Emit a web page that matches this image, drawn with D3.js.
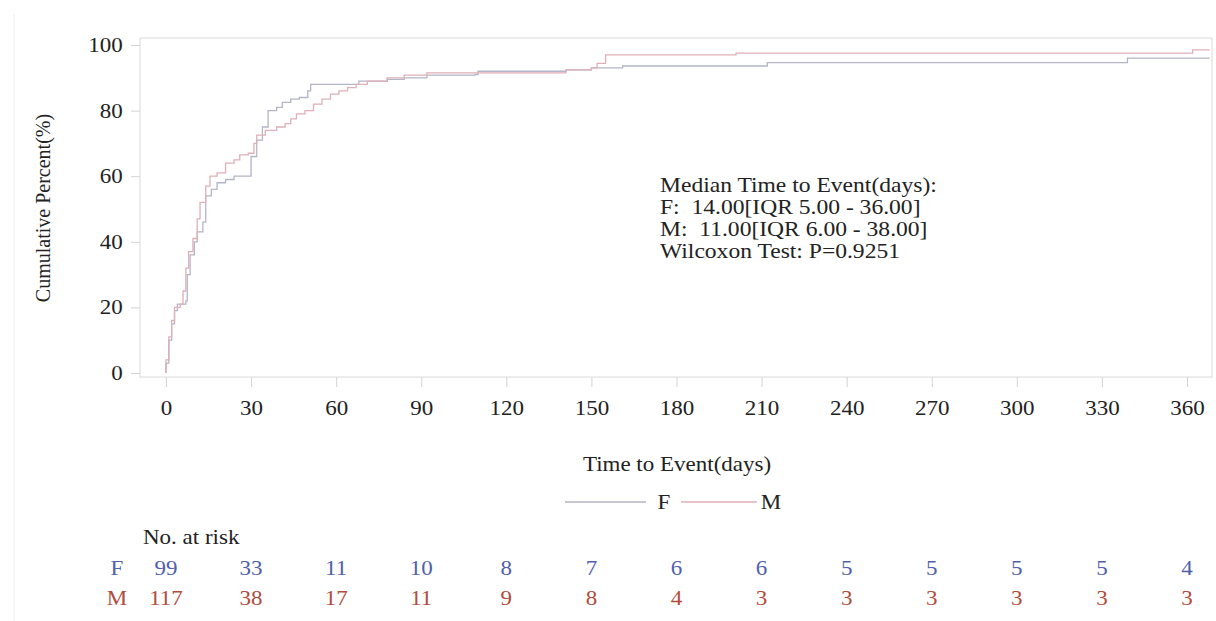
<!DOCTYPE html>
<html>
<head>
<meta charset="utf-8">
<script src="https://cdn.jsdelivr.net/npm/d3@7"></script>
<style>
body { margin: 0; background: #fff; }
text { font-family: "Liberation Serif", "DejaVu Serif", serif; fill: #222; white-space: pre; }
</style>
</head>
<body>
<div id="chart_wrapper"></div>
<script>
// step points: [day, cumulative percent]
var groups = ["F", "M"];
var curveF = [[0,0],[0,3],[1,10],[2,15],[3,19],[4,21],[7,22],[7.5,30],[8.5,36],[10,40],[11,43],[13,46],[14,54],[16,56],[18,58],[21,59],[24,60],[29,60],[30,66],[32,71],[34,75],[36,80],[39,81],[41,82.5],[44,83.5],[47,84],[50,86],[51,88],[66,88],[68,89],[78,89.5],[84,90],[92,90.8],[109,91],[110,92],[141,92.4],[150,93],[161,93.6],[212,94.6],[339,96],[368,96]];
var curveM = [[0,0],[0,4],[1,11],[2,16],[3,20],[5,21],[6,25],[7,32],[8,37],[9.5,41],[11,47],[12,52],[14,57],[15.5,60],[18,61],[21,64],[24,65],[26,66.5],[29,67],[31,70],[32,72.5],[35,74],[39,75],[42,76],[44,77.5],[46,79],[49,80],[52,82],[55,83.5],[58,85],[61,86],[64,87],[67,88],[71,89],[78,90],[84,90.8],[92,91.5],[141,92.4],[150,93],[152,94.4],[155,97],[201,97.5],[362,98.5],[368,98.5]];
var xTicks = [0,30,60,90,120,150,180,210,240,270,300,330,360];
var yTicks = [0,20,40,60,80,100];
var atRiskF = [99,33,11,10,8,7,6,6,5,5,5,5,4];
var atRiskM = [117,38,17,11,9,8,4,3,3,3,3,3,3];
var statLines = ["Median Time to Event(days):", "F:  14.00[IQR 5.00 - 36.00]", "M:  11.00[IQR 6.00 - 38.00]", "Wilcoxon Test: P=0.9251"];

var W = 1216, H = 621;
var frame = {left: 140, right: 1212, top: 38, bottom: 377};
var lineColor = {F: "#b4b5c6", M: "#dfb0b8"};
var textColor = {F: "#5060aa", M: "#b24c3c"};
var sx = 1.15; // the original text is a little wider than it is tall

var svg = d3.select("#chart_wrapper").append("svg").attr("width", W).attr("height", H);

var x = d3.scaleLinear().domain([0, 360]).range([166, 1187]);
var y = d3.scaleLinear().domain([0, 100]).range([373, 45]);

function addText(parent, px, py, str, anchor, size, color) {
    return parent.append("text")
        .attr("transform", "translate(" + px + "," + py + ") scale(" + sx + ",1)")
        .attr("text-anchor", anchor || "start")
        .attr("font-size", size || 20)
        .style("fill", color || "#222")
        .text(str);
}

// outer faint border
svg.append("line").attr("x1", 14).attr("x2", 14).attr("y1", 14).attr("y2", H).attr("stroke", "#ededed");

// plot frame
svg.append("rect").attr("x", frame.left).attr("y", frame.top)
    .attr("width", frame.right - frame.left).attr("height", frame.bottom - frame.top)
    .attr("fill", "none").attr("stroke", "#dadada");

// X axis
var xAxis = svg.append("g").attr("transform", "translate(0," + frame.bottom + ")")
    .call(d3.axisBottom(x).tickValues(xTicks).tickSize(10).tickPadding(14));
xAxis.select(".domain").remove();
xAxis.selectAll("line").attr("stroke", "#d4d4d4");
xAxis.selectAll("text").attr("font-size", 20).attr("fill", "#222")
    .style("font-family", "Liberation Serif").attr("transform", "scale(" + sx + ",1)");

// Y axis
var yAxis = svg.append("g").attr("transform", "translate(" + frame.left + ",0)")
    .call(d3.axisLeft(y).tickValues(yTicks).tickSize(9).tickPadding(6));
yAxis.select(".domain").remove();
yAxis.selectAll("line").attr("stroke", "#d4d4d4");
yAxis.selectAll("text").attr("font-size", 20).attr("fill", "#222")
    .style("font-family", "Liberation Serif").attr("transform", "scale(" + sx + ",1)");

svg.append("text").attr("transform", "translate(50,208) rotate(-90)")
    .attr("text-anchor", "middle").attr("font-size", 20).text("Cumulative Percent(%)");
addText(svg, 677, 471, "Time to Event(days)", "middle");

// curves
var stepLine = d3.line().curve(d3.curveStepAfter)
    .x(function(d) { return x(d[0]); })
    .y(function(d) { return y(d[1]); });
var curves = {F: curveF, M: curveM};
groups.forEach(function(g) {
    svg.append("path").attr("d", stepLine(curves[g]))
        .attr("fill", "none").attr("stroke", lineColor[g]).attr("stroke-width", 1.3);
});

// stats text
statLines.forEach(function(s, i) {
    addText(svg, 660, 192 + i * 22, s, "start", 20.5);
});

// legend
var legend = svg.append("g").attr("transform", "translate(0,502)");
var legPos = [{g: "F", x1: 565, x2: 646, tx: 664}, {g: "M", x1: 681, x2: 757, tx: 771}];
legPos.forEach(function(p) {
    legend.append("line").attr("x1", p.x1).attr("x2", p.x2).attr("y1", 0).attr("y2", 0)
        .attr("stroke", lineColor[p.g]).attr("stroke-width", 1.3);
    addText(legend, p.tx, 7, p.g, "middle");
});

// number at risk table
addText(svg, 143, 544, "No. at risk");
var rows = [{g: "F", vals: atRiskF, y: 575}, {g: "M", vals: atRiskM, y: 605}];
rows.forEach(function(r) {
    addText(svg, 117, r.y, r.g, "middle", 20, textColor[r.g]);
    r.vals.forEach(function(v, i) {
        addText(svg, x(xTicks[i]), r.y, v, "middle", 20, textColor[r.g]);
    });
});
</script>
</body>
</html>
